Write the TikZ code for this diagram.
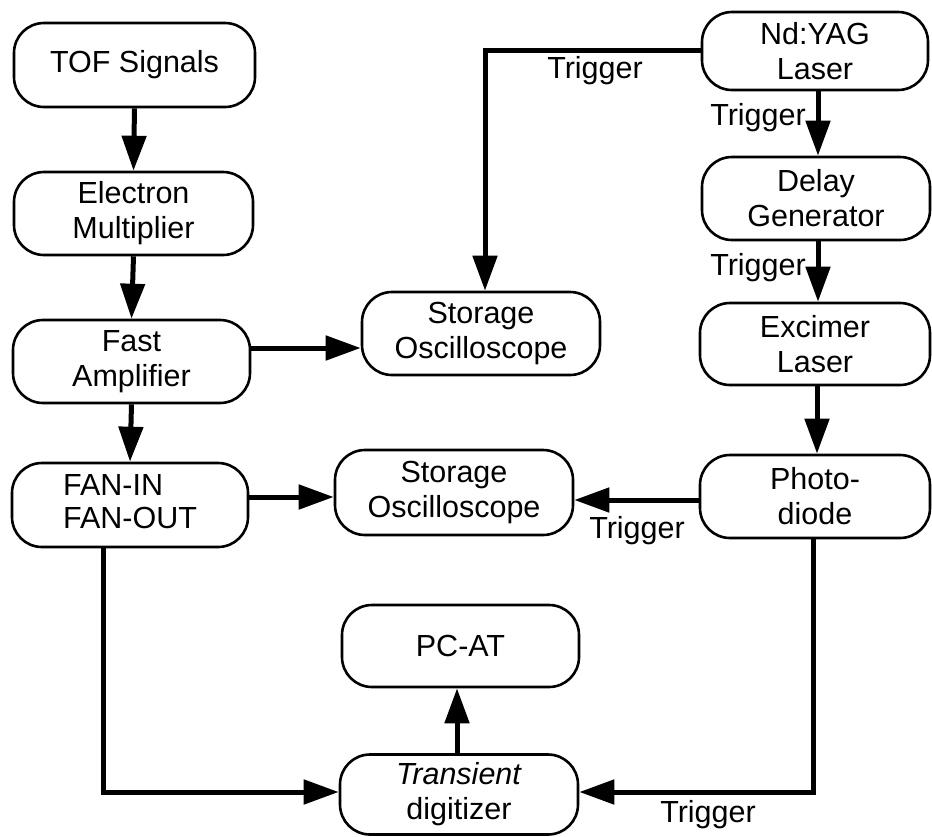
\documentclass[tikz,border=0pt]{standalone}
\usepackage{fontspec}
\setmainfont{Liberation Sans}
\usetikzlibrary{arrows.meta}
\begin{document}
\begin{tikzpicture}[x=1pt,y=-1pt,
  blk/.style={draw=black, line width=2.6pt, rounded corners=30pt, align=center,
    inner sep=0pt, font=\fontsize{30.5}{35}\selectfont},
  conn/.style={line width=5pt, -{Triangle[length=35pt,width=24pt]}},
  lbl/.style={font=\fontsize{30.5}{35}\selectfont, inner sep=0pt, anchor=base}]
\useasboundingbox (0,0) rectangle (932,836);
% left column
\node[blk, minimum width=241pt, minimum height=84pt] (tof) at (134.5,65) {TOF Signals};
\node[blk, minimum width=239pt, minimum height=83pt] (elec) at (133.5,213.5) {Electron\\Multiplier};
\node[blk, minimum width=237pt, minimum height=83pt] (fast) at (131.5,361.5) {Fast\\Amplifier};
\node[blk, minimum width=236pt, minimum height=84pt] (fan) at (130,505) {\begin{tabular}{@{}l@{}}FAN-IN\\[-2pt]FAN-OUT\end{tabular}};
% middle column
\node[blk, minimum width=238pt, minimum height=83pt] (so1) at (481,333.5) {Storage\\Oscilloscope};
\node[blk, minimum width=238pt, minimum height=85pt] (so2) at (454,492.5) {Storage\\Oscilloscope};
\node[blk, minimum width=237pt, minimum height=82pt] (pc) at (460.5,646) {PC-AT};
\node[blk, minimum width=238pt, minimum height=80pt] (trans) at (459,794.5) {\textit{Transient}\\digitizer};
% right column
\node[blk, minimum width=226pt, minimum height=78pt] (nd) at (815,51) {Nd:YAG\\Laser};
\node[blk, minimum width=228pt, minimum height=83pt] (delay) at (816,198.5) {Delay\\Generator};
\node[blk, minimum width=230pt, minimum height=82pt] (exc) at (815,344) {Excimer\\Laser};
\node[blk, minimum width=230pt, minimum height=83pt] (photo) at (815,496.5) {Photo-\\diode};
% connectors
\draw[conn] (tof.south) -- (elec.north);
\draw[conn] (elec.south) -- (fast.north);
\draw[conn] (fast.south) -- (fan.north);
\draw[conn] (fast.east |- 0,348) -- (so1.west |- 0,348);
\draw[conn] (fan.east |- 0,497) -- (so2.west |- 0,497);
\coordinate (ndcorner) at (485,50);
\draw[conn] (nd.west |- ndcorner) -- (ndcorner) -- (ndcorner |- so1.north);
\draw[conn] (nd.south -| 818,0) -- (delay.north -| 818,0);
\draw[conn] (delay.south -| 818,0) -- (exc.north -| 818,0);
\draw[conn] (exc.south -| 817,0) -- (photo.north -| 817,0);
\draw[conn] (photo.west |- 0,500) -- (so2.east |- 0,500);
\coordinate (brc) at (813,792);
\draw[conn] (photo.south -| brc) -- (brc) -- (trans.east |- brc);
\coordinate (blc) at (103,792);
\draw[conn] (fan.south -| blc) -- (blc) -- (trans.west |- blc);
\draw[conn] (trans.north -| 457,0) -- (pc.south -| 457,0);
% labels
\node[lbl] (t1) at (595,78) {Trigger};
\node[lbl] (t2) at (758,125) {Trigger};
\node[lbl] (t3) at (758,275) {Trigger};
\node[lbl] (t4) at (637,538) {Trigger};
\node[lbl] (t5) at (708,822) {Trigger};
\end{tikzpicture}
\end{document}
